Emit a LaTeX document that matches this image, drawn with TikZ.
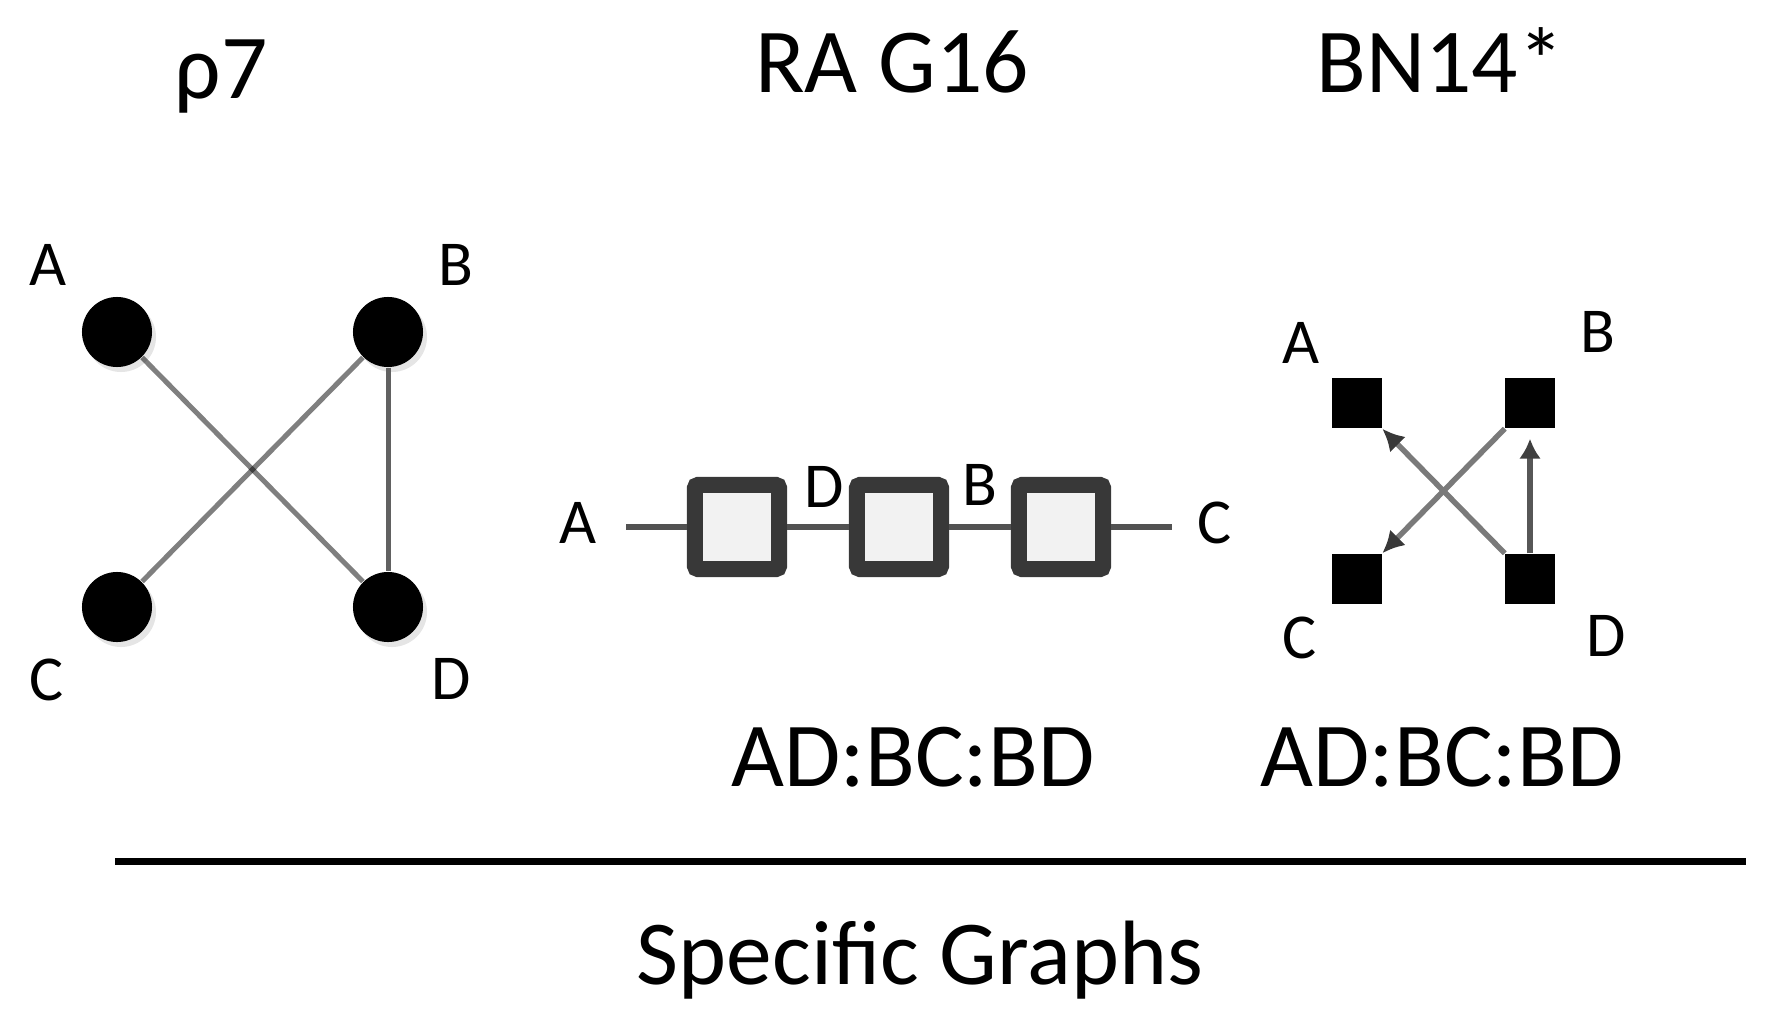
\documentclass[tikz,border=0pt]{standalone}
\usepackage{fontspec}
\setmainfont{Carlito}
\usetikzlibrary{arrows.meta}
\begin{document}
\begin{tikzpicture}[x=0.01cm,y=-0.01cm,
  big/.style={font=\fontsize{26}{30}\selectfont, anchor=base, inner sep=0},
  lbl/.style={font=\fontsize{18.2}{22}\selectfont, anchor=base, inner sep=0},
  dotnode/.style={circle, fill=black, minimum size=0.7cm, inner sep=0},
  dotshadow/.style={circle, fill=black!10, minimum size=0.7cm, inner sep=0},
  sqnode/.style={rectangle, fill=black, minimum size=0.5cm, inner sep=0},
  cellnode/.style={rectangle, draw=black!78, line width=0.16cm, fill=black!5, minimum size=0.84cm, inner sep=0, rounded corners=0.03cm},
  thinedge/.style={draw=black, opacity=0.5, line width=0.05cm},
  darkedge/.style={draw=black!62, line width=0.05cm},
  chainedge/.style={draw=black!68, line width=0.06cm},
  arr/.style={-{Latex[length=0.22cm,width=0.22cm,color=black!78]}, draw=black!52, line width=0.055cm},
  darkarr/.style={-{Latex[length=0.2cm,width=0.22cm,color=black!75]}, draw=black!66, line width=0.055cm}
]
\useasboundingbox (0,0) rectangle (1766,1024);

% titles
\node[big] (t1) at (221,98) {ρ7};
\node[big] (t2) at (892,92) {RA G16};
\node[big] (t3) at (1440,92) {BN14*};

% ---------- rho7 ----------
\node[dotshadow] (sA) at (121,337) {};
\node[dotshadow] (sB) at (392,337) {};
\node[dotshadow] (sC) at (121,612) {};
\node[dotshadow] (sD) at (392,612) {};
\node[dotnode] (rA) at (117,332) {};
\node[dotnode] (rB) at (388,332) {};
\node[dotnode] (rC) at (117,607) {};
\node[dotnode] (rD) at (388,607) {};
\draw[thinedge] (rA) -- (rD);
\draw[thinedge] (rC) -- (rB);
\draw[darkedge] (rB) -- (rD);
\node[lbl] (lA) at (48,285) {A};
\node[lbl] (lB) at (456,285) {B};
\node[lbl] (lC) at (47,700) {C};
\node[lbl] (lD) at (451,699) {D};

% ---------- RA G16 ----------
\coordinate (cs) at (626,527);
\coordinate (ce) at (1172,527);
\node[cellnode] (b1) at (737,527) {};
\node[cellnode] (b2) at (899,527) {};
\node[cellnode] (b3) at (1061,527) {};
\draw[chainedge] (cs) -- (b1.west);
\draw[chainedge] (b1.east) -- (b2.west);
\draw[chainedge] (b2.east) -- (b3.west);
\draw[chainedge] (b3.east) -- (ce);
\node[lbl] (gA) at (578,543) {A};
\node[lbl] (gD) at (824,507) {D};
\node[lbl] (gB) at (980,505) {B};
\node[lbl] (gC) at (1215,543) {C};
\node[big] (e1) at (913,786) {AD:BC:BD};

% ---------- BN14* ----------
\node[sqnode] (nA) at (1357,403) {};
\node[sqnode] (nB) at (1530,403) {};
\node[sqnode] (nC) at (1357,579) {};
\node[sqnode] (nD) at (1530,579) {};
\draw[arr] (nD) -- (nA);
\draw[arr] (nB) -- (nC);
\draw[darkarr, shorten >=0.1cm] (nD) -- (nB);
\node[lbl] (mA) at (1301,363) {A};
\node[lbl] (mB) at (1598,352) {B};
\node[lbl] (mC) at (1300,658) {C};
\node[lbl] (mD) at (1606,656) {D};
\node[big] (e2) at (1442,786) {AD:BC:BD};

% ---------- rule and caption ----------
\coordinate (h1) at (115,861);
\coordinate (h2) at (1746,861);
\draw[line width=0.07cm] (h1) -- (h2);
\node[big] (cap) at (920,984) {Specific Graphs};
\end{tikzpicture}
\end{document}
